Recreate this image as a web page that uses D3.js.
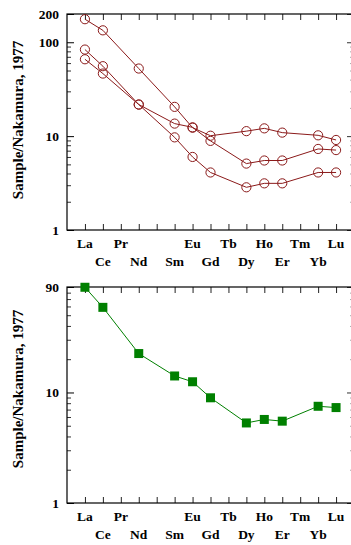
<!DOCTYPE html>
<html><head><meta charset="utf-8">
<script src="https://cdn.jsdelivr.net/npm/d3@7/dist/d3.min.js"></script>
<style>html,body{margin:0;padding:0;background:#fff;}svg{display:block;}</style>
</head><body>
<script>
const elements = ["La","Ce","Pr","Nd","Pm","Sm","Eu","Gd","Tb","Dy","Ho","Er","Tm","Yb","Lu"];
const labelUpper = ["La","Pr","Eu","Tb","Ho","Tm","Lu"];
const labelLower = ["Ce","Nd","Sm","Gd","Dy","Er","Yb"];
const plotted = ["La","Ce","Nd","Sm","Eu","Gd","Dy","Ho","Er","Yb","Lu"];
const seriesA = [176,134,52.5,20.5,12.3,10.1,11.3,12.1,10.9,10.2,9.1];
const seriesB = [83.6,55.6,21.7,13.6,12.4,8.9,5.1,5.5,5.5,7.3,7.1];
const seriesC = [65.9,46.4,21.7,9.7,6.0,4.1,2.85,3.14,3.14,4.1,4.1];
const seriesAvg = [89.5,58.9,22.5,14.1,12.5,8.95,5.3,5.7,5.5,7.5,7.3];
const topTicks = [1,10,100,200];
const botTicks = [1,10,90];
const yTitle = "Sample/Nakamura, 1977";

const W=351,H=545;
const svg=d3.select("body").append("svg").attr("width",W).attr("height",H);
const font="'Liberation Serif','Times New Roman',serif";
const x=d3.scaleLinear().domain([-1,15]).range([67,354]);

function panel(y0,y1,dom,labels,series,color,marker,lab1,lab2,titleY){
  const y=d3.scaleLog().domain(dom).range([y1,y0]);
  const g=svg.append("g");
  const minors=[];
  for(let d=1; d<dom[1]; d*=10){for(let k=2;k<10;k++){const v=d*k;if(v<dom[1]&&v>dom[0]&&!labels.includes(v))minors.push(v);}}
  const left=d3.axisRight(y).tickValues(minors).tickSize(4).tickFormat("");
  g.append("g").attr("transform",`translate(${x(-1)},0)`).call(left).call(s=>{s.select(".domain").remove();s.selectAll("line").attr("stroke","#333");});
  const leftMaj=d3.axisRight(y).tickValues(labels).tickSize(7).tickFormat("");
  g.append("g").attr("transform",`translate(${x(-1)},0)`).call(leftMaj).call(s=>{s.select(".domain").remove();s.selectAll("line").attr("stroke","#000");});
  const rightMin=d3.axisLeft(y).tickValues(minors).tickSize(4).tickFormat("");
  g.append("g").attr("transform",`translate(${x(15)},0)`).call(rightMin).call(s=>{s.select(".domain").remove();s.selectAll("line").attr("stroke","#aaa");});
  const rightMaj=d3.axisLeft(y).tickValues(labels).tickSize(7).tickFormat("");
  g.append("g").attr("transform",`translate(${x(15)},0)`).call(rightMaj).call(s=>{s.select(".domain").remove();s.selectAll("line").attr("stroke","#333");});
  const idx=d3.range(elements.length);
  g.append("g").attr("transform",`translate(0,${y1})`).call(d3.axisTop(x).tickValues(idx).tickSize(6).tickFormat("")).call(s=>{s.select(".domain").remove();s.selectAll("line").attr("stroke","#222");});
  g.append("g").attr("transform",`translate(0,${y0})`).call(d3.axisBottom(x).tickValues(idx).tickSize(6).tickFormat("")).call(s=>{s.select(".domain").remove();s.selectAll("line").attr("stroke","#222");});
  g.append("rect").attr("x",x(-1)).attr("y",y0).attr("width",x(15)-x(-1)).attr("height",y1-y0).attr("fill","none").attr("stroke","#000").attr("stroke-width",1.2);
  g.selectAll("text.yl").data(labels).enter().append("text").attr("x",59).attr("y",d=>y(d)).attr("dy","0.35em")
    .attr("text-anchor","end").attr("font-family",font).attr("font-weight","bold").attr("font-size",13.5).text(d=>d);
  g.selectAll("text.xu").data(labelUpper).enter().append("text").attr("x",d=>x(elements.indexOf(d))).attr("y",lab1)
    .attr("text-anchor","middle").attr("font-family",font).attr("font-weight","bold").attr("font-size",13.5).text(d=>d);
  g.selectAll("text.xl").data(labelLower).enter().append("text").attr("x",d=>x(elements.indexOf(d))).attr("y",lab2)
    .attr("text-anchor","middle").attr("font-family",font).attr("font-weight","bold").attr("font-size",13.5).text(d=>d);
  g.append("text").attr("transform",`translate(23,${titleY}) rotate(-90)`).attr("text-anchor","middle")
    .attr("font-family",font).attr("font-weight","bold").attr("font-size",15).text(yTitle);
  const line=d3.line().x((d,i)=>x(elements.indexOf(plotted[i]))).y(d=>y(d));
  series.forEach(s=>{
    g.append("path").attr("d",line(s)).attr("fill","none").attr("stroke",color).attr("stroke-width",1);
    if(marker==="circle"){
      g.selectAll(null).data(s).enter().append("circle").attr("cx",(d,i)=>x(elements.indexOf(plotted[i]))).attr("cy",d=>y(d))
        .attr("r",4.6).attr("fill","none").attr("stroke",color).attr("stroke-width",1);
    } else {
      g.selectAll(null).data(s).enter().append("rect").attr("x",(d,i)=>x(elements.indexOf(plotted[i]))-4.5).attr("y",d=>y(d)-4.5)
        .attr("width",9).attr("height",9).attr("fill",color);
    }
  });
}
panel(14,230,[1,200],topTicks,[seriesA,seriesB,seriesC],"#8b1a1a","circle",248,266,120);
panel(287,503,[1,90],botTicks,[seriesAvg],"#008000","square",521,539,389);
</script>
</body></html>
